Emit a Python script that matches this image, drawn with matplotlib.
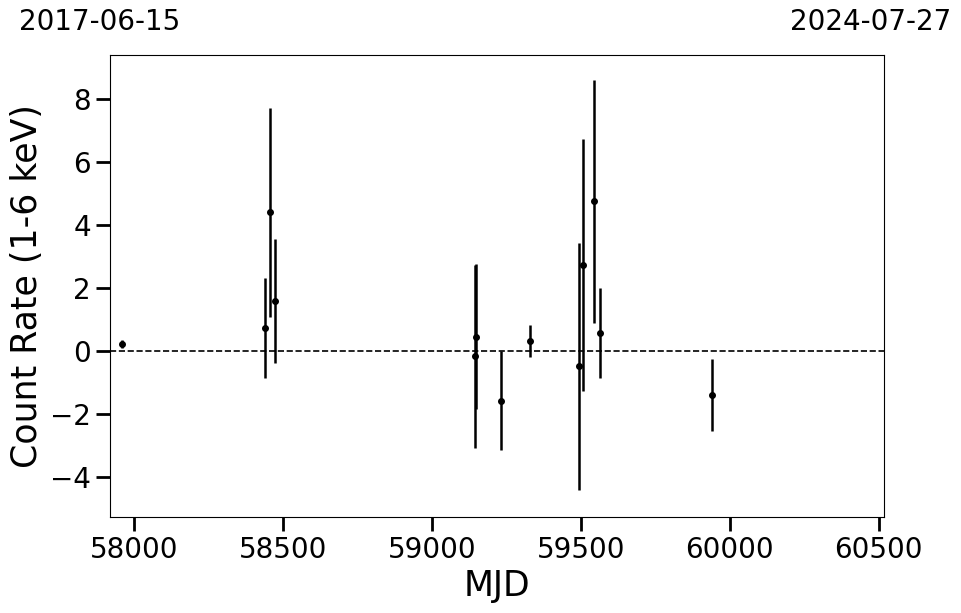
import matplotlib
matplotlib.use("Agg")
import matplotlib.pyplot as plt

# Light curve data (MJD, count rate 1-6 keV, 1-sigma error)
mjd = [57960, 58441, 58458, 58475, 59144, 59148, 59234, 59331,
       59495, 59508, 59545, 59566, 59941]
rate = [0.22, 0.73, 4.40, 1.59, -0.17, 0.45, -1.58, 0.33,
        -0.49, 2.74, 4.76, 0.58, -1.41]
err = [0.13, 1.60, 3.33, 1.96, 2.91, 2.30, 1.58, 0.51,
       3.92, 4.00, 3.86, 1.43, 1.15]

xlim = (57919, 60518)
date_start = "2017-06-15"
date_end = "2024-07-27"

fig = plt.figure(figsize=(9.62, 6.13), dpi=100)
ax = fig.add_axes([0.114, 0.157, 0.805, 0.753])

ax.errorbar(mjd, rate, yerr=err, fmt='o', color='black', ms=4,
            elinewidth=1.8, capsize=0)
ax.axhline(0, color='black', ls='--', lw=1.2)

ax.set_xlim(xlim)
ax.set_ylim(-5.27, 9.4)
ax.set_xticks([58000, 58500, 59000, 59500, 60000, 60500])
ax.set_yticks([-4, -2, 0, 2, 4, 6, 8])
ax.tick_params(labelsize=20, length=10, width=2)

ax.set_xlabel("MJD", fontsize=25)
ax.set_ylabel("Count Rate (1-6 keV)", fontsize=25)

fig.text(100 / 962, 1 - 22 / 613, date_start, fontsize=20, ha='center', va='center')
fig.text(871 / 962, 1 - 22 / 613, date_end, fontsize=20, ha='center', va='center')

fig.savefig("out.png", dpi=100)
